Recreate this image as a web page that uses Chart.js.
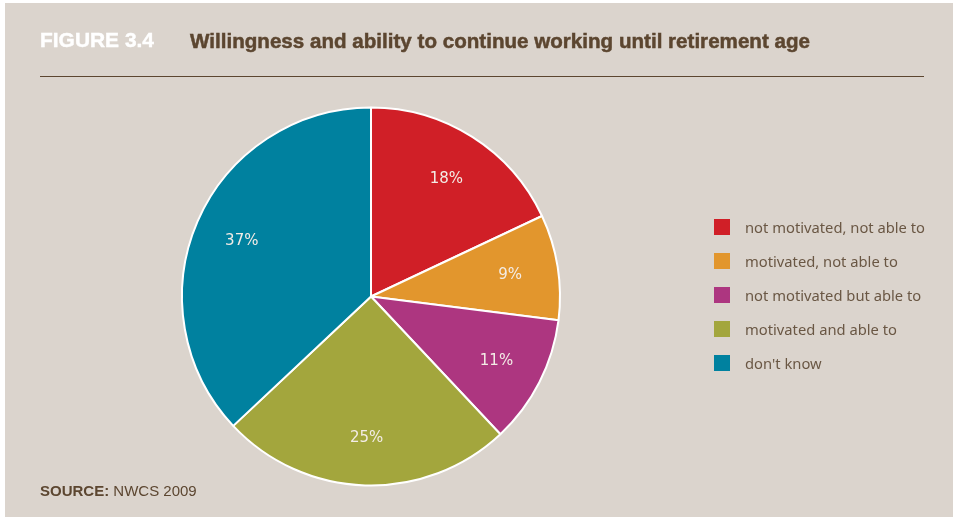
<!DOCTYPE html>
<html>
<head>
<meta charset="utf-8">
<script src="https://cdn.jsdelivr.net/npm/chart.js@4"></script>
<style>
  html, body { margin: 0; padding: 0; background: #fff; }
  #page {
    position: absolute; left: 5px; top: 3px; width: 948px; height: 514px;
    background: #dbd4cd; overflow: hidden;
  }
  #chart { position: absolute; left: -5px; top: -3px; }
  .fig {
    position: absolute; left: 35px; top: 26px; white-space: nowrap;
    font-family: "Liberation Sans", Arial, sans-serif; font-weight: bold;
    font-size: 20px; color: #fff; transform-origin: left top;
    -webkit-text-stroke: 0.4px #fff;
  }
  .title {
    position: absolute; left: 185px; top: 26px; white-space: nowrap;
    font-family: "Liberation Sans", Arial, sans-serif; font-weight: bold;
    font-size: 21px; color: #5c4630; transform-origin: left top;
    -webkit-text-stroke: 0.5px #5c4630;
  }
  .rule {
    position: absolute; left: 35px; top: 73px; width: 884px; height: 0;
    border-top: 1.5px solid #5c4630;
  }
  .source {
    position: absolute; left: 35px; top: 479px; white-space: nowrap;
    font-family: "Liberation Sans", Arial, sans-serif; font-size: 15px; color: #5c4630;
  }
  .source b { font-weight: bold; }
  #legend { position: absolute; left: 709px; top: 216px; }
  .item { position: relative; height: 34px; white-space: nowrap; }
  .item span.box { position: absolute; left: 0; top: 0; width: 16px; height: 16px; }
  .item span.txt {
    position: absolute; left: 31px; top: -2px; transform-origin: left top;
    font-family: "Noto Sans", sans-serif; font-size: 15px; color: #6a5744;
  }
</style>
</head>
<body>
<div id="page">
  <canvas id="chart" width="953" height="517"></canvas>
  <div class="fig" id="fig">FIGURE 3.4</div>
  <div class="title" id="title">Willingness and ability to continue working until retirement age</div>
  <div class="rule"></div>
  <div id="legend"></div>
  <div class="source"><b>SOURCE:</b> NWCS 2009</div>
</div>
<script>
const categories = [
  'not motivated, not able to',
  'motivated, not able to',
  'not motivated but able to',
  'motivated and able to',
  "don't know"
];
const shares = [18, 9, 11, 25, 37];
const sliceColors = ['#d01f27', '#e2962d', '#ad3680', '#a3a63d', '#00819f'];

// squeeze a heading to the width it should occupy
function fitWidth(el, target) {
  const w = el.getBoundingClientRect().width;
  el.style.transform = 'scaleX(' + (target / w) + ')';
}
fitWidth(document.getElementById('fig'), 114);
fitWidth(document.getElementById('title'), 620);

// percentage labels placed inside each slice
const sliceLabels = {
  id: 'sliceLabels',
  afterDatasetsDraw(chart) {
    const ctx = chart.ctx;
    const meta = chart.getDatasetMeta(0);
    ctx.save();
    ctx.font = '15px "DejaVu Sans", sans-serif';
    ctx.fillStyle = '#f3ece6';
    ctx.textAlign = 'center';
    ctx.textBaseline = 'middle';
    meta.data.forEach((arc, i) => {
      const mid = (arc.startAngle + arc.endAngle) / 2;
      const r = arc.outerRadius * 0.745;
      ctx.fillText(shares[i] + '%', arc.x + Math.cos(mid) * r, arc.y + Math.sin(mid) * r + 1);
    });
    ctx.restore();
  }
};

const chart = new Chart(document.getElementById('chart').getContext('2d'), {
  type: 'pie',
  data: {
    labels: categories,
    datasets: [{
      data: shares,
      backgroundColor: sliceColors,
      borderColor: '#ffffff',
      borderWidth: 2
    }]
  },
  options: {
    responsive: false,
    animation: false,
    layout: { padding: { left: 181, right: 392, top: 106, bottom: 30 } },
    plugins: {
      legend: { display: false },
      tooltip: { enabled: false }
    }
  },
  plugins: [sliceLabels]
});

// legend built from the same categories and colours
const legend = document.getElementById('legend');
categories.forEach((name, i) => {
  const row = document.createElement('div');
  row.className = 'item';
  row.innerHTML = '<span class="box" style="background:' + sliceColors[i] + '"></span>' +
    '<span class="txt">' + name + '</span>';
  legend.appendChild(row);
});
// first entry spans 180px in the printed layout
const first = legend.querySelector('.txt');
const k = 180 / first.getBoundingClientRect().width;
legend.querySelectorAll('.txt').forEach(t => { t.style.transform = 'scaleX(' + k + ')'; });
</script>
</body>
</html>
